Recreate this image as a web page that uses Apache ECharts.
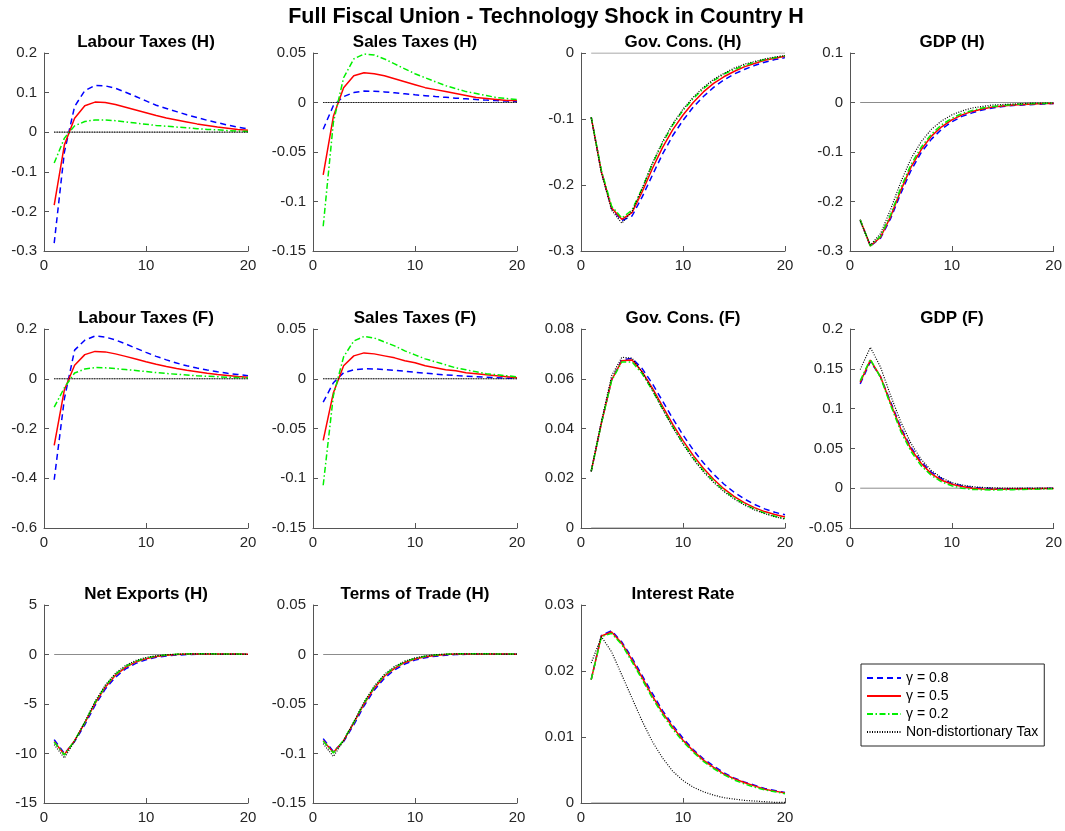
<!DOCTYPE html>
<html>
<head>
<meta charset="utf-8">
<title>Full Fiscal Union - Technology Shock in Country H</title>
<script src="https://cdn.jsdelivr.net/npm/echarts@6/dist/echarts.min.js"></script>
<style>
html, body { margin: 0; padding: 0; background: #fff; }
#chart { width: 1065px; height: 831px; }
</style>
</head>
<body>
<div id="chart"></div>
<script>
// periods after the shock
const periods = [1, 2, 3, 4, 5, 6, 7, 8, 9, 10, 11, 12, 13, 14, 15, 16, 17, 18, 19, 20];
const seriesNames = ['γ = 0.8', 'γ = 0.5', 'γ = 0.2', 'Non-distortionary Tax'];
const zeroRef = [[1, 0], [20, 0]];

// Labour Taxes (H)
const ltH_ticks = [-0.3, -0.2, -0.1, 0, 0.1, 0.2];
const ltH_08 = [-0.28, -0.05, 0.065, 0.105, 0.118, 0.117, 0.111, 0.101, 0.09, 0.079, 0.068, 0.06, 0.052, 0.044, 0.037, 0.03, 0.024, 0.018, 0.013, 0.008];
const ltH_05 = [-0.184, -0.032, 0.035, 0.067, 0.076, 0.075, 0.07, 0.063, 0.056, 0.049, 0.042, 0.036, 0.031, 0.026, 0.021, 0.017, 0.013, 0.01, 0.007, 0.005];
const ltH_02 = [-0.078, -0.015, 0.016, 0.027, 0.031, 0.031, 0.029, 0.026, 0.023, 0.02, 0.017, 0.015, 0.013, 0.011, 0.009, 0.007, 0.006, 0.004, 0.003, 0.002];
const ltH_nd = [0, 0, 0, 0, 0, 0, 0, 0, 0, 0, 0, 0, 0, 0, 0, 0, 0, 0, 0, 0];

// Sales Taxes (H)
const stH_ticks = [-0.15, -0.1, -0.05, 0, 0.05];
const stH_08 = [-0.027, -0.003, 0.006, 0.01, 0.0115, 0.0113, 0.0107, 0.0098, 0.0088, 0.0078, 0.0069, 0.006, 0.0052, 0.0044, 0.0037, 0.003, 0.0024, 0.0019, 0.0014, 0.001];
const stH_05 = [-0.073, -0.014, 0.015, 0.027, 0.03, 0.029, 0.027, 0.024, 0.021, 0.018, 0.015, 0.013, 0.011, 0.009, 0.007, 0.005, 0.004, 0.003, 0.002, 0.002];
const stH_02 = [-0.125, -0.02, 0.025, 0.044, 0.049, 0.048, 0.044, 0.039, 0.034, 0.029, 0.025, 0.021, 0.017, 0.014, 0.011, 0.009, 0.007, 0.005, 0.004, 0.003];
const stH_nd = [0, 0, 0, 0, 0, 0, 0, 0, 0, 0, 0, 0, 0, 0, 0, 0, 0, 0, 0, 0];

// Gov. Cons. (H)
const gcH_ticks = [-0.3, -0.2, -0.1, 0];
const gcH_08 = [-0.097, -0.18, -0.236, -0.254, -0.247, -0.218, -0.185, -0.153, -0.125, -0.102, -0.082, -0.066, -0.052, -0.041, -0.032, -0.025, -0.019, -0.014, -0.01, -0.007];
const gcH_05 = [-0.097, -0.18, -0.235, -0.252, -0.242, -0.21, -0.175, -0.143, -0.116, -0.094, -0.075, -0.059, -0.046, -0.036, -0.028, -0.021, -0.016, -0.011, -0.008, -0.005];
const gcH_02 = [-0.097, -0.178, -0.232, -0.25, -0.238, -0.205, -0.168, -0.136, -0.109, -0.087, -0.069, -0.054, -0.042, -0.032, -0.025, -0.019, -0.014, -0.01, -0.007, -0.004];
const gcH_nd = [-0.098, -0.182, -0.238, -0.258, -0.24, -0.205, -0.167, -0.134, -0.107, -0.085, -0.067, -0.052, -0.04, -0.031, -0.023, -0.017, -0.013, -0.009, -0.006, -0.004];

// GDP (H)
const gdpH_ticks = [-0.3, -0.2, -0.1, 0, 0.1];
const gdpH_08 = [-0.237, -0.29, -0.274, -0.234, -0.183, -0.137, -0.101, -0.074, -0.054, -0.039, -0.028, -0.021, -0.015, -0.011, -0.008, -0.006, -0.005, -0.004, -0.003, -0.002];
const gdpH_05 = [-0.237, -0.29, -0.272, -0.23, -0.177, -0.13, -0.095, -0.068, -0.049, -0.035, -0.025, -0.018, -0.013, -0.009, -0.007, -0.005, -0.004, -0.003, -0.002, -0.002];
const gdpH_02 = [-0.237, -0.29, -0.27, -0.226, -0.172, -0.125, -0.09, -0.064, -0.045, -0.032, -0.022, -0.016, -0.011, -0.008, -0.006, -0.004, -0.003, -0.002, -0.002, -0.001];
const gdpH_nd = [-0.24, -0.288, -0.265, -0.215, -0.16, -0.113, -0.079, -0.054, -0.037, -0.025, -0.017, -0.011, -0.008, -0.005, -0.004, -0.003, -0.002, -0.001, -0.001, -0.001];

// Labour Taxes (F)
const ltF_ticks = [-0.6, -0.4, -0.2, 0, 0.2];
const ltF_08 = [-0.406, -0.08, 0.115, 0.155, 0.172, 0.168, 0.156, 0.14, 0.123, 0.106, 0.09, 0.076, 0.063, 0.052, 0.043, 0.035, 0.028, 0.022, 0.017, 0.012];
const ltF_05 = [-0.268, -0.044, 0.054, 0.097, 0.11, 0.108, 0.1, 0.09, 0.079, 0.068, 0.058, 0.049, 0.041, 0.034, 0.028, 0.022, 0.017, 0.013, 0.009, 0.006];
const ltF_02 = [-0.114, -0.036, 0.023, 0.039, 0.045, 0.044, 0.041, 0.037, 0.033, 0.029, 0.025, 0.021, 0.018, 0.015, 0.012, 0.01, 0.008, 0.006, 0.005, 0.004];
const ltF_nd = [0, 0, 0, 0, 0, 0, 0, 0, 0, 0, 0, 0, 0, 0, 0, 0, 0, 0, 0, 0];

// Sales Taxes (F)
const stF_ticks = [-0.15, -0.1, -0.05, 0, 0.05];
const stF_08 = [-0.0235, -0.004, 0.006, 0.009, 0.01, 0.0099, 0.0093, 0.0085, 0.0075, 0.0065, 0.0056, 0.0047, 0.0039, 0.0032, 0.0025, 0.002, 0.0015, 0.001, 0.0006, 0.0003];
const stF_05 = [-0.062, -0.014, 0.013, 0.023, 0.026, 0.025, 0.023, 0.021, 0.018, 0.016, 0.013, 0.011, 0.009, 0.008, 0.006, 0.005, 0.004, 0.003, 0.002, 0.001];
const stF_02 = [-0.107, -0.017, 0.022, 0.038, 0.0425, 0.041, 0.037, 0.033, 0.028, 0.024, 0.02, 0.017, 0.014, 0.011, 0.009, 0.007, 0.005, 0.004, 0.003, 0.002];
const stF_nd = [0, 0, 0, 0, 0, 0, 0, 0, 0, 0, 0, 0, 0, 0, 0, 0, 0, 0, 0, 0];

// Gov. Cons. (F)
const gcF_ticks = [0, 0.02, 0.04, 0.06, 0.08];
const gcF_08 = [0.0228, 0.0422, 0.0596, 0.0676, 0.0682, 0.0641, 0.058, 0.051, 0.044, 0.0374, 0.0314, 0.0262, 0.0216, 0.0177, 0.0144, 0.0117, 0.0095, 0.0077, 0.0063, 0.0053];
const gcF_05 = [0.0228, 0.0422, 0.0595, 0.0672, 0.0675, 0.0628, 0.0562, 0.0489, 0.0417, 0.0351, 0.0292, 0.024, 0.0196, 0.0158, 0.0127, 0.0102, 0.0082, 0.0066, 0.0054, 0.0044];
const gcF_02 = [0.0228, 0.0421, 0.0592, 0.0667, 0.0668, 0.062, 0.0553, 0.0479, 0.0407, 0.0341, 0.0282, 0.0231, 0.0188, 0.0151, 0.0121, 0.0096, 0.0076, 0.006, 0.0047, 0.0038];
const gcF_nd = [0.0228, 0.0428, 0.0612, 0.0686, 0.0683, 0.0627, 0.0555, 0.0478, 0.0404, 0.0337, 0.0277, 0.0226, 0.0183, 0.0147, 0.0117, 0.0093, 0.0073, 0.0058, 0.0045, 0.0036];

// GDP (F)
const gdpF_ticks = [-0.05, 0, 0.05, 0.1, 0.15, 0.2];
const gdpF_08 = [0.131, 0.159, 0.14, 0.108, 0.076, 0.051, 0.033, 0.02, 0.012, 0.006, 0.003, 0.001, 0, -0.0005, -0.0006, -0.0006, -0.0005, -0.0004, -0.0003, -0.0002];
const gdpF_05 = [0.133, 0.161, 0.14, 0.106, 0.074, 0.049, 0.031, 0.018, 0.01, 0.005, 0.002, 0, -0.001, -0.0012, -0.0012, -0.001, -0.0008, -0.0006, -0.0004, -0.0003];
const gdpF_02 = [0.135, 0.162, 0.139, 0.104, 0.071, 0.046, 0.028, 0.016, 0.008, 0.003, 0, -0.0015, -0.002, -0.0022, -0.002, -0.0018, -0.0015, -0.0012, -0.0009, -0.0006];
const gdpF_nd = [0.149, 0.177, 0.152, 0.116, 0.083, 0.056, 0.036, 0.022, 0.013, 0.007, 0.004, 0.002, 0.001, 0.0005, 0.0002, 0.0001, 0, 0, 0, 0];

// Net Exports (H)
const nxH_ticks = [-15, -10, -5, 0, 5];
const nxH_08 = [-8.6, -10.0, -8.8, -7.1, -5.15, -3.5, -2.3, -1.45, -0.9, -0.53, -0.29, -0.15, -0.06, -0.01, 0.02, 0.03, 0.03, 0.03, 0.03, 0.02];
const nxH_05 = [-8.8, -10.1, -8.7, -6.9, -4.95, -3.3, -2.1, -1.3, -0.75, -0.42, -0.2, -0.08, 0, 0.04, 0.05, 0.05, 0.05, 0.04, 0.04, 0.03];
const nxH_02 = [-8.85, -10.15, -8.7, -6.85, -4.85, -3.2, -2.0, -1.2, -0.68, -0.36, -0.16, -0.04, 0.03, 0.06, 0.07, 0.07, 0.06, 0.05, 0.04, 0.03];
const nxH_nd = [-9.1, -10.45, -8.75, -6.8, -4.75, -3.1, -1.9, -1.1, -0.6, -0.3, -0.12, -0.02, 0.03, 0.05, 0.06, 0.06, 0.05, 0.04, 0.03, 0.02];

// Terms of Trade (H)
const totH_ticks = [-0.15, -0.1, -0.05, 0, 0.05];
const totH_08 = [-0.085, -0.098, -0.088, -0.071, -0.052, -0.036, -0.024, -0.0155, -0.0096, -0.0057, -0.0032, -0.0017, -0.0007, -0.0001, 0.0002, 0.0003, 0.0003, 0.0003, 0.0003, 0.0002];
const totH_05 = [-0.087, -0.099, -0.087, -0.069, -0.05, -0.034, -0.022, -0.014, -0.008, -0.0045, -0.0022, -0.0009, -0.0001, 0.0004, 0.0006, 0.0006, 0.0005, 0.0005, 0.0004, 0.0003];
const totH_02 = [-0.0875, -0.0995, -0.0865, -0.0685, -0.049, -0.033, -0.021, -0.013, -0.0074, -0.0039, -0.0017, -0.0004, 0.0003, 0.0007, 0.0008, 0.0008, 0.0007, 0.0006, 0.0005, 0.0004];
const totH_nd = [-0.09, -0.103, -0.087, -0.068, -0.048, -0.032, -0.02, -0.012, -0.0067, -0.0034, -0.0014, -0.0002, 0.0004, 0.0006, 0.0007, 0.0007, 0.0006, 0.0005, 0.0004, 0.0003];

// Interest Rate
const ir_ticks = [0, 0.01, 0.02, 0.03];
const ir_08 = [0.0187, 0.0254, 0.0261, 0.0244, 0.022, 0.0193, 0.0166, 0.014, 0.0118, 0.0098, 0.0081, 0.0067, 0.0056, 0.0046, 0.0038, 0.0032, 0.0027, 0.0022, 0.0019, 0.0016];
const ir_05 = [0.0187, 0.0253, 0.0259, 0.0242, 0.0217, 0.019, 0.0162, 0.0137, 0.0115, 0.0095, 0.0079, 0.0065, 0.0054, 0.0044, 0.0037, 0.0031, 0.0026, 0.0021, 0.0018, 0.0015];
const ir_02 = [0.0187, 0.0252, 0.0257, 0.024, 0.0214, 0.0187, 0.0159, 0.0134, 0.0112, 0.0093, 0.0077, 0.0063, 0.0052, 0.0043, 0.0035, 0.0029, 0.0024, 0.002, 0.0017, 0.0014];
const ir_nd = [0.0212, 0.0252, 0.0229, 0.0194, 0.0159, 0.0124, 0.0093, 0.0068, 0.0048, 0.0034, 0.0024, 0.0017, 0.0012, 0.0008, 0.0006, 0.0004, 0.0003, 0.0002, 0.0001, 0.0001];

const xTicks = [0, 10, 20];

const panels = [
    { title: 'Labour Taxes (H)', ticks: ltH_ticks, lines: [ltH_08, ltH_05, ltH_02, ltH_nd] },
    { title: 'Sales Taxes (H)', ticks: stH_ticks, lines: [stH_08, stH_05, stH_02, stH_nd] },
    { title: 'Gov. Cons. (H)', ticks: gcH_ticks, lines: [gcH_08, gcH_05, gcH_02, gcH_nd] },
    { title: 'GDP (H)', ticks: gdpH_ticks, lines: [gdpH_08, gdpH_05, gdpH_02, gdpH_nd] },
    { title: 'Labour Taxes (F)', ticks: ltF_ticks, lines: [ltF_08, ltF_05, ltF_02, ltF_nd] },
    { title: 'Sales Taxes (F)', ticks: stF_ticks, lines: [stF_08, stF_05, stF_02, stF_nd] },
    { title: 'Gov. Cons. (F)', ticks: gcF_ticks, lines: [gcF_08, gcF_05, gcF_02, gcF_nd] },
    { title: 'GDP (F)', ticks: gdpF_ticks, lines: [gdpF_08, gdpF_05, gdpF_02, gdpF_nd] },
    { title: 'Net Exports (H)', ticks: nxH_ticks, lines: [nxH_08, nxH_05, nxH_02, nxH_nd] },
    { title: 'Terms of Trade (H)', ticks: totH_ticks, lines: [totH_08, totH_05, totH_02, totH_nd] },
    { title: 'Interest Rate', ticks: ir_ticks, lines: [ir_08, ir_05, ir_02, ir_nd] }
];

// layout of the 4x3 subplot grid (pixels)
const colLeft = [44, 313, 581, 850];
const rowTop = [53, 329, 605];
const rowHeight = [198, 199, 198];
const plotWidth = 204;

const lineStyles = [
    { color: '#0000ff', width: 1.5, type: [6, 4] },
    { color: '#ff0000', width: 1.5, type: 'solid' },
    { color: '#00f000', width: 1.5, type: [6, 2.5, 1.5, 2.5] },
    { color: '#000000', width: 1.2, type: [1, 1.5] }
];

const font = 'Liberation Sans, Arial, Helvetica, sans-serif';
const chart = echarts.init(document.getElementById('chart'));

const titles = [{
    text: 'Full Fiscal Union - Technology Shock in Country H',
    left: 546, top: 6, textAlign: 'center', padding: 0,
    textStyle: { fontSize: 21.5, fontWeight: 'bold', color: '#000', fontFamily: font }
}];
const grids = [], xAxes = [], yAxes = [], series = [];

panels.forEach(function (p, i) {
    const col = i % 4, row = Math.floor(i / 4);
    grids.push({ left: colLeft[col], top: rowTop[row], width: plotWidth, height: rowHeight[row] });
    titles.push({
        text: p.title,
        left: colLeft[col] + plotWidth / 2,
        top: rowTop[row] - 19,
        textAlign: 'center', padding: 0,
        textStyle: { fontSize: 17, fontWeight: 'bold', color: '#000', fontFamily: font }
    });
    const axisCommon = {
        axisLine: { show: true, onZero: false, lineStyle: { color: '#555', width: 1 } },
        axisTick: { show: true, inside: true, length: 5, lineStyle: { color: '#555' } },
        splitLine: { show: false },
        axisLabel: { fontSize: 15, color: '#262626', fontFamily: font, margin: 7 }
    };
    xAxes.push(Object.assign({
        type: 'value', gridIndex: i,
        min: xTicks[0], max: xTicks[xTicks.length - 1], interval: xTicks[1] - xTicks[0]
    }, axisCommon));
    const step = +(p.ticks[1] - p.ticks[0]).toFixed(6);
    yAxes.push(Object.assign({
        type: 'value', gridIndex: i,
        min: p.ticks[0], max: p.ticks[p.ticks.length - 1], interval: step
    }, axisCommon));
    series.push({
        name: 'zero', type: 'line', xAxisIndex: i, yAxisIndex: i,
        data: zeroRef, symbol: 'none', silent: true,
        lineStyle: { color: '#8c8c8c', width: 1 }
    });
    p.lines.forEach(function (vals, k) {
        series.push({
            name: seriesNames[k], type: 'line', xAxisIndex: i, yAxisIndex: i,
            data: periods.map(function (t, j) { return [t, vals[j]]; }),
            symbol: 'none',
            lineStyle: lineStyles[k],
            itemStyle: { color: lineStyles[k].color }
        });
    });
});

chart.setOption({
    animation: false,
    backgroundColor: '#fff',
    title: titles,
    grid: grids,
    xAxis: xAxes,
    yAxis: yAxes,
    legend: {
        data: seriesNames,
        orient: 'vertical',
        left: 861, top: 664,
        itemWidth: 34, itemHeight: 12, itemGap: 4,
        padding: [7, 6, 7, 5],
        borderColor: '#262626', borderWidth: 1,
        itemStyle: { color: 'transparent', borderColor: 'transparent', borderWidth: 0, opacity: 0 },
        textStyle: { fontSize: 14, color: '#000', fontFamily: font }
    },
    series: series
});
</script>
</body>
</html>
